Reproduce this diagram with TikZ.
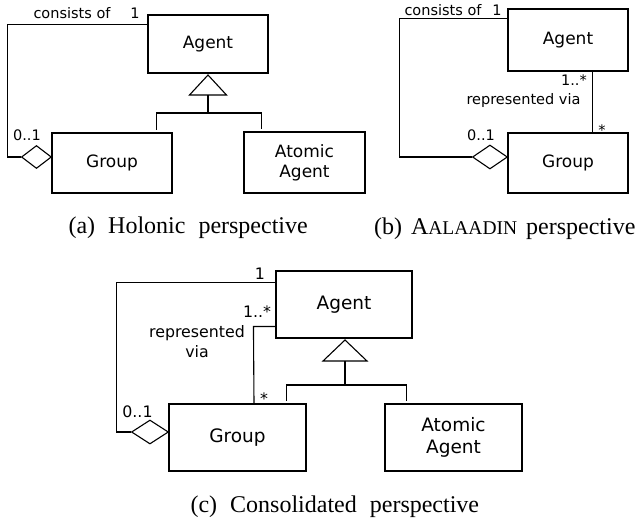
\documentclass[tikz,border=0pt]{standalone}
\usepackage{fontspec}
\setmainfont{Liberation Serif}
\newfontfamily\sansf{DejaVu Sans}
\usetikzlibrary{shapes.geometric,calc}
\newcommand\capgap{\hspace{13pt}}
\begin{document}
\begin{tikzpicture}[x=1pt,y=-1pt,line width=1.1pt,
  cls/.style={draw,rectangle,inner sep=0pt,align=center,font=\sansf\fontsize{17}{20}\selectfont},
  clsc/.style={draw,rectangle,inner sep=0pt,align=center,font=\sansf\fontsize{18.5}{22}\selectfont},
  agg/.style={draw,diamond,inner sep=0pt,fill=white},
  lab/.style={inner sep=0pt,anchor=base,align=center,font=\sansf\fontsize{14.5}{18}\selectfont},
  labc/.style={inner sep=0pt,anchor=base,align=center,font=\sansf\fontsize{15.8}{20}\selectfont},
  captxt/.style={inner sep=0pt,font=\fontsize{24}{28}\selectfont},
  gen/.style={draw,fill=white,line join=miter}]
\useasboundingbox (0,0) rectangle (637,523);

% ---------- (a) Holonic ----------
\node[cls,minimum width=120pt,minimum height=58pt] (AgentA) at (208,44) {Agent};
\node[cls,minimum width=120pt,minimum height=60pt] (GroupA) at (112,163) {Group};
\node[cls,minimum width=121pt,minimum height=61pt] (AtomA) at (304.5,162.5) {Atomic\\Agent};
\node[agg,minimum width=30pt,minimum height=23pt,anchor=east] (DA) at (52,157) {};
\draw (DA.west) -- ++(-13,0) |- ($(AgentA.north west)+(0,10)$);
\coordinate (TA) at (208,75);
\draw[gen] (TA) -- (226.5,95) -- (189.5,95) -- cycle;
\coordinate (TAb) at (208,95);
\coordinate (JA) at (208,113);
\draw (TAb) -- (JA);
\draw (JA) -| ($(GroupA.north east)+(-16,-2)$);
\draw (JA) -| ($(AtomA.north west)+(18,-2)$);
\node[lab] (cA) at (72,18) {consists of};
\node[lab] (oneA) at (135,18) {1};
\node[lab] (zA) at (27,140) {0..1};
\node[captxt,anchor=base west] (capA) at (68,233) {(a)\capgap Holonic\capgap perspective};

% ---------- (b) AALAADIN ----------
\node[cls,minimum width=120pt,minimum height=62pt] (AgentB) at (568,40) {Agent};
\node[cls,minimum width=120pt,minimum height=60pt] (GroupB) at (568,163) {Group};
\node[agg,minimum width=35pt,minimum height=24pt,anchor=east] (DB) at (508,157) {};
\draw (DB.west) -- ++(-72,0) |- ($(AgentB.north west)+(0,10)$);
\draw ($(AgentB.south west)+(85,0)$) -- ($(GroupB.north west)+(85,0)$);
\node[lab] (cB) at (443,15) {consists of};
\node[lab] (oneB) at (497,15) {1};
\node[lab] (mB) at (574,85) {1..*};
\node[lab] (rB) at (523.5,104) {represented via};
\node[lab] (sB) at (602,135) {*};
\node[lab] (zB) at (481,140) {0..1};
\node[captxt,anchor=base east] (capB) at (636,234) {(b)\hspace{9pt}A{\fontsize{19.5}{24}\selectfont ALAADIN}\hspace{9pt}perspective};

% ---------- (c) Consolidated ----------
\node[clsc,minimum width=136pt,minimum height=67pt] (AgentC) at (344,304.5) {Agent};
\node[clsc,minimum width=137pt,minimum height=67pt] (GroupC) at (237.5,437.5) {Group};
\node[clsc,minimum width=137pt,minimum height=67pt] (AtomC) at (453.5,437.5) {Atomic\\Agent};
\node[agg,minimum width=37pt,minimum height=24pt,anchor=east] (DC) at (169,432) {};
\draw (DC.west) -- ++(-14,0) |- ($(AgentC.north west)+(0,12)$);
\draw ($(AgentC.north west)+(0,56)$) -- ++(-22,0) -- (GroupC.north -| 254,0);
\coordinate (TC) at (345,340);
\draw[gen] (TC) -- (367,361) -- (323,361) -- cycle;
\coordinate (TCb) at (345,361);
\coordinate (JC) at (345,385);
\draw (TCb) -- (JC);
\draw (JC) -| ($(GroupC.north east)+(-20,-2)$);
\draw (JC) -| ($(AtomC.north west)+(22,-2)$);
\node[labc] (oneC) at (260,279) {1};
\node[labc] (mC) at (257,317) {1..*};
\node[labc] (rC) at (197,357) {represented\\via};
\node[labc] (sC) at (264,404) {*};
\node[labc] (zC) at (137.5,417) {0..1};
\node[captxt,anchor=base west] (capC) at (190,512) {(c)\capgap Consolidated\capgap perspective};
\end{tikzpicture}
\end{document}
